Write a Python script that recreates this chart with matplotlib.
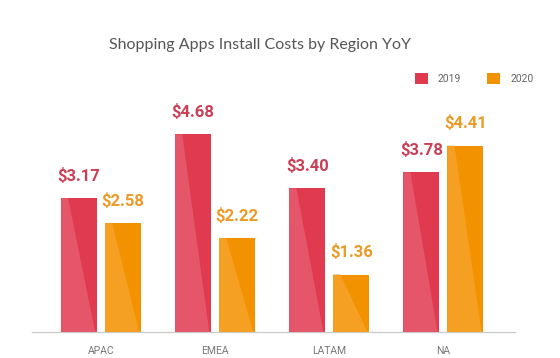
import matplotlib
matplotlib.use("Agg")
import matplotlib.pyplot as plt
from matplotlib.patches import Polygon, Patch
import numpy as np

regions = ["APAC", "EMEA", "LATAM", "NA"]
years = ["2019", "2020"]
values_2019 = [3.17, 4.68, 3.40, 3.78]
values_2020 = [2.58, 2.22, 1.36, 4.41]
title = "Shopping Apps Install Costs by Region YoY"

colors = {"2019": "#E03A50", "2020": "#F39200"}
light = {"2019": "#E6566A", "2020": "#F5A023"}
label_colors = {"2019": "#CA3F56", "2020": "#EC9A26"}

plt.rcParams['font.family'] = ['Roboto', 'DejaVu Sans']

fig = plt.figure(figsize=(5.6, 3.58), dpi=100)
ax = fig.add_axes([0.057, 0.0726, 0.863, 0.59])

x = np.arange(len(regions))
width = 0.316
offset = 0.193

for yr, vals, sgn in [("2019", values_2019, -1), ("2020", values_2020, 1)]:
    bars = ax.bar(x + sgn * offset, vals, width, color=colors[yr], zorder=2)
    for b, v in zip(bars, vals):
        x0 = b.get_x()
        w = b.get_width()
        h = b.get_height()
        poly = Polygon([(x0, 0), (x0, h), (x0 + 0.2 * w, h), (x0 + 0.95 * w, 0)],
                       closed=True, facecolor=light[yr], edgecolor='none', zorder=3)
        ax.add_patch(poly)
        ax.annotate(f"${v:.2f}", (x0 + w / 2, h), xytext=(0, 16),
                    textcoords="offset points", ha="center", va="center",
                    fontsize=12, fontweight="bold", color=label_colors[yr],
                    annotation_clip=False)

ax.set_xlim(-0.605, 3.63)
ax.set_ylim(0, 5)
ax.set_xticks(x)
ax.set_xticklabels(regions, fontsize=7.5, color="#777777")
ax.tick_params(axis='x', length=0, pad=10)
ax.set_yticks([])
for s in ["top", "right", "left"]:
    ax.spines[s].set_visible(False)
ax.spines["bottom"].set_color("#cccccc")
ax.spines["bottom"].set_linewidth(1)

fig.text(0.465, 0.874, title, ha="center", va="center", fontsize=11.5,
         color="#555555", family=['Lato', 'DejaVu Sans'])

handles = [Patch(facecolor=colors[y], edgecolor='none') for y in years]
fig.legend(handles, years, loc="center", bbox_to_anchor=(0.847, 0.78), ncol=2,
           frameon=False, fontsize=7.5, handlelength=1.2, handleheight=1.2,
           columnspacing=2.5, handletextpad=1.0, labelcolor="#666666")

fig.savefig("out.png", dpi=100)
